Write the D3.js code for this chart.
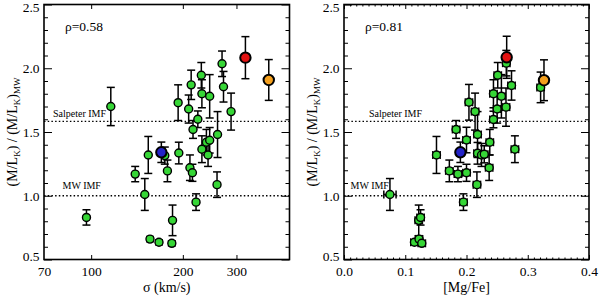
<!DOCTYPE html>
<html>
<head>
<meta charset="utf-8">
<script src="https://cdn.jsdelivr.net/npm/d3@7"></script>
<style>
body { margin: 0; background: #fff; }
svg text { font-family: "Liberation Serif", "DejaVu Serif", serif; fill: #000; }
</style>
</head>
<body>
<div class="chart"></div>
<script>

// ---- data ----

// left panel: velocity dispersion (km/s)
var sigmaLeft = [116, 193, 213, 230, 231, 209, 216, 224, 245, 269, 272, 288, 260,
    154, 139.5, 150, 96.5, 156, 167, 184, 185, 178, 174.5, 194, 211, 215, 221,
    231, 242, 239, 245, 259];
var mlLeft = [1.70, 1.73, 1.87, 1.945, 1.80, 1.68, 1.52, 1.60, 1.78, 2.035, 1.855, 1.66, 1.48,
    1.32, 1.17, 1.01, 0.83, 0.66, 0.635, 0.627, 0.807, 1.195, 1.315, 1.335, 1.22, 1.18, 0.95,
    1.365, 1.32, 1.42, 1.435, 1.087];
var errLeft = [0.15, 0.14, 0.115, 0.10, 0.11, 0.11, 0.07, 0.065, 0.17, 0.10, 0.12, 0.145, 0.18,
    0.145, 0.06, 0.125, 0.06, 0.02, 0.02, 0.02, 0.12, 0.085, 0.067, 0.085, 0.10, 0.067, 0.065,
    0.105, 0.09, 0.10, 0.10, 0.10];

// right panel: [Mg/Fe]
var mgfeRight = [0.265, 0.321, 0.251, 0.2735, 0.244, 0.257, 0.204, 0.214, 0.250, 0.2645, 0.244,
    0.183, 0.200, 0.218, 0.238, 0.279, 0.151, 0.218, 0.2245, 0.229, 0.172, 0.186, 0.200,
    0.237, 0.217, 0.195, 0.075, 0.122, 0.125, 0.115, 0.1225, 0.127];
var mlRight = [2.04, 1.85, 1.945, 1.865, 1.80, 1.78, 1.733, 1.66, 1.68, 1.695, 1.598,
    1.52, 1.437, 1.48, 1.42, 1.365, 1.32, 1.333, 1.32, 1.325, 1.195, 1.17, 1.18,
    1.22, 1.087, 0.95, 1.01, 0.807, 0.83, 0.635, 0.66, 0.627];
var errRight = [0.10, 0.12, 0.10, 0.115, 0.11, 0.17, 0.14, 0.145, 0.11, 0.15, 0.065,
    0.07, 0.10, 0.18, 0.10, 0.105, 0.145, 0.085, 0.09, 0.067, 0.085, 0.06, 0.067,
    0.10, 0.10, 0.065, 0.125, 0.12, 0.06, 0.02, 0.02, 0.02];
var xerrRight = [0.006, 0.006, 0.006, 0.006, 0.006, 0.006, 0.006, 0.006, 0.006, 0.006, 0.006,
    0.006, 0.006, 0.006, 0.006, 0.006, 0.006, 0.006, 0.006, 0.006, 0.006, 0.006, 0.006,
    0.006, 0.006, 0.006, 0.010, 0.006, 0.006, 0.006, 0.006, 0.006];

// highlighted galaxies (blue, red, orange)
var specialSigma = [170, 321, 383];
var specialMgFe = [0.190, 0.2656, 0.3265];
var specialMLLeft = [1.341, 2.083, 1.908];
var specialMLRight = [1.341, 2.086, 1.906];
var specialErr = [0.08, 0.165, 0.16];

// reference IMF levels
var imfLevels = [1.584, 1.0];
var imfNames = ["Salpeter IMF", "MW IMF"];

// ticks
var yMajorTicks = [0.5, 1.0, 1.5, 2.0, 2.5];
var sigmaTicks = [70, 100, 200, 300];
var mgfeTicks = [0.0, 0.1, 0.2, 0.3, 0.4];
var rhoLabels = ["\u03c1=0.58", "\u03c1=0.81"];

// ---- layout ----
var svgWidth = 600;
var svgHeight = 297;
var plotTop = 4.5, plotBottom = 259.5;
var leftPanel = { x0: 44, x1: 289.5 };
var rightPanel = { x0: 344, x1: 589 };
var serif = "'Liberation Serif', 'DejaVu Serif', serif";

var green = "#36d636";
var specialColors = ["#2323c8", "#e31212", "#f4a01e"];

var svg = d3.select(".chart")
    .append("svg")
    .attr("width", svgWidth)
    .attr("height", svgHeight)
    .attr("font-family", serif);

var yScale = d3.scaleLinear().domain([0.5, 2.5]).range([plotBottom, plotTop]);
var xLeft = d3.scaleLog().domain([70, 448]).range([leftPanel.x0, leftPanel.x1]);
var xRight = d3.scaleLinear().domain([0, 0.4]).range([rightPanel.x0, rightPanel.x1]);

var yMinorTicks = d3.range(6, 25).map(function(d) { return d / 10; })
    .filter(function(d) { return yMajorTicks.indexOf(d) < 0; });
var mgfeMinor = d3.range(1, 40).filter(function(d) { return d % 10 !== 0; })
    .map(function(d) { return d / 100; });

function styleAxis(g) {
    g.select(".domain").remove();
    g.selectAll(".tick line").attr("stroke", "#000").attr("stroke-width", 1);
    g.attr("font-size", 13.5).attr("font-family", serif);
}

function drawFrame(panel, xScale, xTicks, xMinor, xLabel, tickFmt) {
    var g = svg.append("g");

    // y axes, left and mirrored right
    g.append("g")
        .attr("transform", "translate(" + panel.x0 + ",0)")
        .call(d3.axisLeft(yScale).tickValues(yMajorTicks).tickSize(-8).tickPadding(4.5)
            .tickFormat(d3.format(".1f")))
        .call(styleAxis)
        .selectAll("text")
        .attr("dy", function(d) { return d === 2.5 ? "0.55em" : (d === 0.5 ? "0.05em" : "0.32em"); });
    g.append("g")
        .attr("transform", "translate(" + panel.x0 + ",0)")
        .call(d3.axisLeft(yScale).tickValues(yMinorTicks).tickSize(-4).tickFormat(""))
        .call(styleAxis);
    g.append("g")
        .attr("transform", "translate(" + panel.x1 + ",0)")
        .call(d3.axisRight(yScale).tickValues(yMajorTicks).tickSize(-8).tickFormat(""))
        .call(styleAxis);
    g.append("g")
        .attr("transform", "translate(" + panel.x1 + ",0)")
        .call(d3.axisRight(yScale).tickValues(yMinorTicks).tickSize(-4).tickFormat(""))
        .call(styleAxis);

    // x axes, bottom and mirrored top
    g.append("g")
        .attr("class", "xaxis")
        .attr("transform", "translate(0," + plotBottom + ")")
        .call(d3.axisBottom(xScale).tickValues(xTicks).tickSize(-4.5).tickPadding(6.5)
            .tickFormat(tickFmt))
        .call(styleAxis);
    g.append("g")
        .attr("class", "xaxis")
        .attr("transform", "translate(0," + plotTop + ")")
        .call(d3.axisTop(xScale).tickValues(xTicks).tickSize(-4.5).tickFormat(""))
        .call(styleAxis);
    if (xMinor) {
        g.append("g")
            .attr("transform", "translate(0," + plotBottom + ")")
            .call(d3.axisBottom(xScale).tickValues(xMinor).tickSize(-2).tickFormat(""))
            .call(styleAxis);
        g.append("g")
            .attr("transform", "translate(0," + plotTop + ")")
            .call(d3.axisTop(xScale).tickValues(xMinor).tickSize(-2).tickFormat(""))
            .call(styleAxis);
    }

    g.append("rect")
        .attr("x", panel.x0)
        .attr("y", plotTop)
        .attr("width", panel.x1 - panel.x0)
        .attr("height", plotBottom - plotTop)
        .attr("fill", "none")
        .attr("stroke", "#000")
        .attr("stroke-width", 1.6);

    // x label
    g.append("text")
        .attr("x", (panel.x0 + panel.x1) / 2)
        .attr("y", 291.5)
        .attr("text-anchor", "middle")
        .attr("font-size", 14)
        .text(xLabel);

    // y label
    var yl = g.append("text")
        .attr("transform", "translate(" + (panel.x0 - 27) + "," + ((plotTop + plotBottom) / 2) + ") rotate(-90)")
        .attr("text-anchor", "middle")
        .attr("font-size", 14);
    yl.append("tspan").text("(M/L");
    yl.append("tspan").attr("font-size", 9).attr("dy", 3).text("K");
    yl.append("tspan").attr("dy", -3).text(") / (M/L");
    yl.append("tspan").attr("font-size", 9).attr("dy", 3).text("K");
    yl.append("tspan").attr("dy", -3).text(")");
    yl.append("tspan").attr("font-size", 9).attr("dy", 3).text("MW");

    // IMF reference lines
    imfLevels.forEach(function(v) {
        g.append("line")
            .attr("x1", panel.x0)
            .attr("x2", panel.x1)
            .attr("y1", yScale(v))
            .attr("y2", yScale(v))
            .attr("stroke", "#000")
            .attr("stroke-width", 1.3)
            .attr("stroke-dasharray", "1.5,2.2");
    });
    return g;
}

function drawPoints(g, pts, xScale, withXerr) {
    var bars = g.append("g")
        .attr("stroke", "#000")
        .attr("stroke-width", 1.5);
    pts.forEach(function(p) {
        var cx = xScale(p.x);
        var y0 = yScale(p.y - p.e), y1 = yScale(p.y + p.e);
        bars.append("line").attr("x1", cx).attr("x2", cx).attr("y1", y0).attr("y2", y1);
        bars.append("line").attr("x1", cx - 4).attr("x2", cx + 4).attr("y1", y0).attr("y2", y0);
        bars.append("line").attr("x1", cx - 4).attr("x2", cx + 4).attr("y1", y1).attr("y2", y1);
        if (withXerr) {
            var xa = xScale(p.x - p.xe), xb = xScale(p.x + p.xe), cy = yScale(p.y);
            bars.append("line").attr("x1", xa).attr("x2", xb).attr("y1", cy).attr("y2", cy);
            bars.append("line").attr("x1", xa).attr("x2", xa).attr("y1", cy - 4).attr("y2", cy + 4);
            bars.append("line").attr("x1", xb).attr("x2", xb).attr("y1", cy - 4).attr("y2", cy + 4);
        }
    });
    g.append("g").selectAll("circle")
        .data(pts)
        .enter()
        .append("circle")
        .attr("cx", function(p) { return xScale(p.x); })
        .attr("cy", function(p) { return yScale(p.y); })
        .attr("r", function(p) { return p.c ? 5.2 : 4; })
        .attr("fill", function(p) { return p.c || green; })
        .attr("stroke", "#000")
        .attr("stroke-width", function(p) { return p.c ? 2 : 1.4; });
}

// ---- left panel ----
var gl = drawFrame(leftPanel, xLeft, sigmaTicks, null, "\u03c3 (km/s)", d3.format("d"));
gl.selectAll(".xaxis .tick").filter(function(d) { return d === 70; }).select("line").remove();

var leftPts = sigmaLeft.map(function(d, i) {
    return { x: d, y: mlLeft[i], e: errLeft[i] };
}).concat(specialSigma.map(function(d, i) {
    return { x: d, y: specialMLLeft[i], e: specialErr[i], c: specialColors[i] };
}));
drawPoints(gl, leftPts, xLeft, false);

// ---- right panel ----
var gr = drawFrame(rightPanel, xRight, mgfeTicks, mgfeMinor, "[Mg/Fe]", d3.format(".1f"));

var rightPts = mgfeRight.map(function(d, i) {
    return { x: d, y: mlRight[i], e: errRight[i], xe: xerrRight[i] };
}).concat(specialMgFe.map(function(d, i) {
    return { x: d, y: specialMLRight[i], e: specialErr[i], xe: 0.006, c: specialColors[i] };
}));
drawPoints(gr, rightPts, xRight, true);

// ---- annotations ----
var notes = [
    { g: gl, x: 65, rho: rhoLabels[0], sx: 53, mx: 62.5 },
    { g: gr, x: 365, rho: rhoLabels[1], sx: 369, mx: 350.5 }
];
notes.forEach(function(n) {
    n.g.append("text").attr("x", n.x).attr("y", 31).attr("font-size", 13.5).text(n.rho);
    n.g.append("text").attr("x", n.sx).attr("y", 116.5).attr("font-size", 10).text(imfNames[0]);
    n.g.append("text").attr("x", n.mx).attr("y", 189).attr("font-size", 10).text(imfNames[1]);
});

</script>
</body>
</html>
